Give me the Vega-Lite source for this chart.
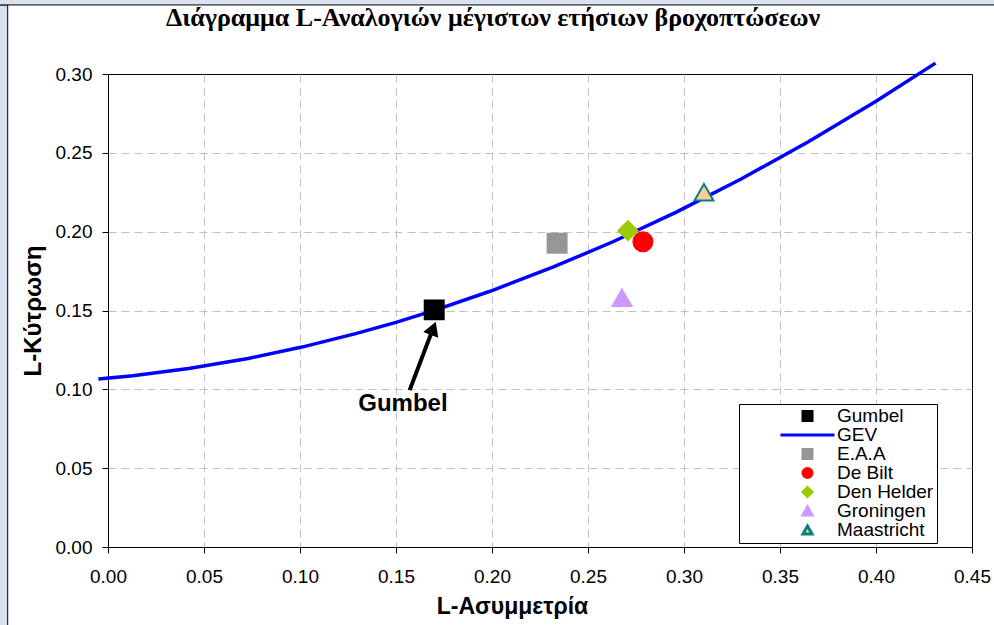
{
  "$schema": "https://vega.github.io/schema/vega-lite/v6.json",
  "width": 864,
  "height": 473,
  "autosize": {"type": "none"},
  "padding": {"left": 108, "top": 74, "right": 22, "bottom": 78},
  "background": "white",
  "config": {
    "font": "Liberation Sans",
    "view": {"stroke": "black", "strokeWidth": 1}
  },
  "title": {
    "text": "Διάγραμμα L-Αναλογιών μέγιστων ετήσιων βροχοπτώσεων",
    "font": "Liberation Serif",
    "fontSize": 26,
    "fontWeight": "bold",
    "color": "black",
    "anchor": "middle",
    "baseline": "alphabetic",
    "dx": -47,
    "offset": -53
  },
  "datasets": {
    "gev": [
      {"series": "GEV", "tau3": -0.005, "tau4": 0.1065},
      {"series": "GEV", "tau3": 0.013, "tau4": 0.1086},
      {"series": "GEV", "tau3": 0.042, "tau4": 0.1132},
      {"series": "GEV", "tau3": 0.073, "tau4": 0.1196},
      {"series": "GEV", "tau3": 0.101, "tau4": 0.1268},
      {"series": "GEV", "tau3": 0.129, "tau4": 0.1353},
      {"series": "GEV", "tau3": 0.150, "tau4": 0.1425},
      {"series": "GEV", "tau3": 0.170, "tau4": 0.1501},
      {"series": "GEV", "tau3": 0.199, "tau4": 0.1622},
      {"series": "GEV", "tau3": 0.232, "tau4": 0.1776},
      {"series": "GEV", "tau3": 0.263, "tau4": 0.1936},
      {"series": "GEV", "tau3": 0.296, "tau4": 0.2124},
      {"series": "GEV", "tau3": 0.330, "tau4": 0.2336},
      {"series": "GEV", "tau3": 0.365, "tau4": 0.2572},
      {"series": "GEV", "tau3": 0.400, "tau4": 0.2827},
      {"series": "GEV", "tau3": 0.431, "tau4": 0.3069}
    ],
    "sites": [
      {"series": "Gumbel", "tau3": 0.1699, "tau4": 0.1504},
      {"series": "E.A.A", "tau3": 0.2339, "tau4": 0.1926},
      {"series": "De Bilt", "tau3": 0.2786, "tau4": 0.1936},
      {"series": "Den Helder", "tau3": 0.2708, "tau4": 0.2006},
      {"series": "Groningen", "tau3": 0.2677, "tau4": 0.158},
      {"series": "Maastricht", "tau3": 0.3104, "tau4": 0.225}
    ]
  },
  "layer": [
    {
      "data": {"values": [{}]},
      "mark": {"type": "rect", "fill": "#DAE2F2", "stroke": "black", "strokeWidth": 1},
      "encoding": {
        "x": {"datum": -0.2, "type": "quantitative", "title": "L-Ασυμμετρία"},
        "x2": {"datum": -0.05224},
        "y": {"datum": -0.2, "type": "quantitative", "title": "L-Κύτρωση"},
        "y2": {"datum": 0.3438}
      }
    },
    {
      "data": {"values": [{}]},
      "mark": {"type": "rect", "fill": "#DAE2F2", "stroke": "black", "strokeWidth": 1},
      "encoding": {
        "x": {"datum": -0.2, "type": "quantitative", "title": "L-Ασυμμετρία"},
        "x2": {"datum": 0.6},
        "y": {"datum": 0.3438, "type": "quantitative", "title": "L-Κύτρωση"},
        "y2": {"datum": 0.3475}
      }
    },
    {
      "data": {"name": "gev"},
      "mark": {"type": "line", "strokeWidth": 3.5, "clip": false},
      "encoding": {
        "x": {
          "field": "tau3",
          "type": "quantitative",
          "title": "L-Ασυμμετρία",
          "scale": {"domain": [0, 0.45], "nice": false, "zero": false},
          "axis": {
            "values": [0, 0.05, 0.1, 0.15, 0.2, 0.25, 0.3, 0.35, 0.4, 0.45],
            "format": ".2f",
            "labelFontSize": 19,
            "labelColor": "black",
            "labelPadding": 14,
            "labelFlush": false,
            "labelOverlap": false,
            "tickSize": 6,
            "tickColor": "black",
            "domainColor": "black",
            "grid": true,
            "gridColor": "#C0C0C0",
            "gridDash": [8, 5],
            "gridOpacity": {"condition": {"test": "datum.value < 0.001 || datum.value > 0.449", "value": 0}, "value": 1},
            "titleFontSize": 23,
            "titleFontWeight": "bold",
            "titleColor": "black",
            "titleX": 404,
            "titleY": 59,
            "titleAlign": "center",
            "titleBaseline": "middle"
          }
        },
        "y": {
          "field": "tau4",
          "type": "quantitative",
          "title": "L-Κύτρωση",
          "scale": {"domain": [0, 0.3], "nice": false, "zero": false},
          "axis": {
            "values": [0, 0.05, 0.1, 0.15, 0.2, 0.25, 0.3],
            "format": ".2f",
            "labelFontSize": 19,
            "labelColor": "black",
            "labelPadding": 10,
            "labelOverlap": false,
            "tickSize": 6,
            "tickColor": "black",
            "domainColor": "black",
            "grid": true,
            "gridColor": "#C0C0C0",
            "gridDash": [8, 5],
            "gridOpacity": {"condition": {"test": "datum.value < 0.001 || datum.value > 0.299", "value": 0}, "value": 1},
            "titleFontSize": 24,
            "titleFontWeight": "bold",
            "titleColor": "black",
            "titleX": -75,
            "titleY": 236.5,
            "titleAngle": -90,
            "titleAlign": "center",
            "titleBaseline": "middle"
          }
        },
        "stroke": {
          "field": "series",
          "type": "nominal",
          "scale": {
            "domain": ["Gumbel", "GEV", "E.A.A", "De Bilt", "Den Helder", "Groningen", "Maastricht"],
            "range": ["#000000", "#0000FF", "#969696", "#FF0000", "#99CC00", "#CC99FF", "#008080"]
          },
          "legend": {
            "title": null,
            "orient": "none",
            "legendX": 631,
            "legendY": 330,
            "padding": 3,
            "fillColor": "white",
            "strokeColor": "black",
            "symbolSize": 81,
            "symbolStrokeWidth": 3,
            "symbolOffset": 56,
            "labelOffset": 20,
            "labelFontSize": 19,
            "labelColor": "black",
            "clipHeight": 18,
            "rowPadding": 0
          }
        }
      }
    },
    {
      "data": {"name": "sites"},
      "mark": {"type": "point", "filled": true, "size": 360, "strokeWidth": 2, "opacity": 1},
      "encoding": {
        "x": {"field": "tau3", "type": "quantitative", "title": "L-Ασυμμετρία"},
        "y": {"field": "tau4", "type": "quantitative", "title": "L-Κύτρωση"},
        "fill": {
          "field": "series",
          "type": "nominal",
          "scale": {
            "domain": ["Gumbel", "GEV", "E.A.A", "De Bilt", "Den Helder", "Groningen", "Maastricht"],
            "range": ["#000000", "#0000FF", "#969696", "#FF0000", "#99CC00", "#CC99FF", "#FFCC99"]
          },
          "legend": {
            "title": null,
            "orient": "none",
            "legendX": 631,
            "legendY": 330,
            "padding": 3,
            "fillColor": "white",
            "strokeColor": "black",
            "symbolSize": 81,
            "symbolStrokeWidth": 3,
            "symbolOffset": 56,
            "labelOffset": 20,
            "labelFontSize": 19,
            "labelColor": "black",
            "clipHeight": 18,
            "rowPadding": 0
          }
        },
        "stroke": {"field": "series", "type": "nominal"},
        "shape": {
          "field": "series",
          "type": "nominal",
          "scale": {
            "domain": ["Gumbel", "GEV", "E.A.A", "De Bilt", "Den Helder", "Groningen", "Maastricht"],
            "range": ["square", "M-6,0H6", "square", "circle", "diamond", "triangle-up", "triangle-up"]
          },
          "legend": {
            "title": null,
            "orient": "none",
            "legendX": 631,
            "legendY": 330,
            "padding": 3,
            "fillColor": "white",
            "strokeColor": "black",
            "symbolSize": 81,
            "symbolStrokeWidth": 3,
            "symbolOffset": 56,
            "labelOffset": 20,
            "labelFontSize": 19,
            "labelColor": "black",
            "clipHeight": 18,
            "rowPadding": 0
          }
        }
      }
    },
    {
      "data": {"values": [{}]},
      "mark": {"type": "rule", "color": "black", "strokeWidth": 4},
      "encoding": {
        "x": {"datum": 0.1571, "type": "quantitative", "title": "L-Ασυμμετρία"},
        "y": {"datum": 0.0995, "type": "quantitative", "title": "L-Κύτρωση"},
        "x2": {"datum": 0.1692},
        "y2": {"datum": 0.1383}
      }
    },
    {
      "data": {"values": [{}]},
      "mark": {"type": "point", "shape": "triangle-up", "filled": true, "color": "black", "opacity": 1, "size": 256, "angle": 21},
      "encoding": {
        "x": {"datum": 0.1694, "type": "quantitative", "title": "L-Ασυμμετρία"},
        "y": {"datum": 0.1387, "type": "quantitative", "title": "L-Κύτρωση"}
      }
    },
    {
      "data": {"values": [{}]},
      "mark": {"type": "text", "text": "Gumbel", "font": "Liberation Sans", "fontSize": 24, "fontWeight": "bold", "color": "black", "align": "center", "baseline": "middle"},
      "encoding": {
        "x": {"datum": 0.1536, "type": "quantitative", "title": "L-Ασυμμετρία"},
        "y": {"datum": 0.091, "type": "quantitative", "title": "L-Κύτρωση"}
      }
    }
  ]
}
